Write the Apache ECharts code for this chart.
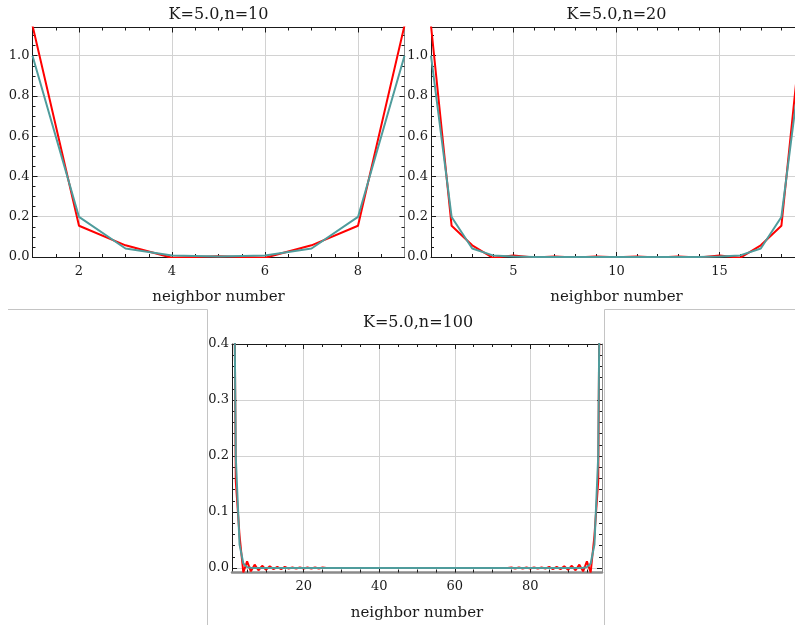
<!DOCTYPE html>
<html>
<head>
<meta charset="utf-8">
<script src="https://cdn.jsdelivr.net/npm/echarts@6/dist/echarts.min.js"></script>
<style>
  html, body { margin: 0; padding: 0; background: #fff; }
  #chart { width: 795px; height: 625px; }
</style>
</head>
<body>
<div id="chart"></div>
<script>
// --- data ---
const red10 = [1.15, 0.155, 0.058, -0.004, 0.004, -0.004, 0.058, 0.155, 1.15];
const teal10 = [1.0, 0.199, 0.042, 0.008, 0.003, 0.008, 0.042, 0.199, 1.0];

const red20 = [1.15, 0.155, 0.058, -0.004, 0.008, -0.003, 0.003, -0.002, 0.002, -0.001,
  0.002, -0.002, 0.003, -0.003, 0.008, -0.004, 0.058, 0.155, 1.15];
const teal20 = [1.0, 0.199, 0.042, 0.008, 0.002, 0.0005, 0.0002, 0.0001, 0.0001, 0.0001,
  0.0001, 0.0001, 0.0002, 0.0005, 0.002, 0.008, 0.042, 0.199, 1.0];

const red100 = [
  1.15, 0.155, 0.058, -0.008, 0.012, -0.006, 0.006, -0.004, 0.004, -0.003,
  0.003, -0.002, 0.002, -0.002, 0.002, -0.001, 0.001, -0.001, 0.001, -0.001,
  0.001, -0.001, 0.001, -0.001, 0.001, 0, 0, 0, 0, 0,
  0, 0, 0, 0, 0, 0, 0, 0, 0, 0,
  0, 0, 0, 0, 0, 0, 0, 0, 0, 0,
  0, 0, 0, 0, 0, 0, 0, 0, 0, 0,
  0, 0, 0, 0, 0, 0, 0, 0, 0, 0,
  0, 0, 0, 0, 0.001, -0.001, 0.001, -0.001, 0.001, -0.001,
  0.001, -0.001, 0.001, -0.001, 0.002, -0.002, 0.002, -0.002, 0.003, -0.003,
  0.004, -0.004, 0.006, -0.006, 0.012, -0.008, 0.058, 0.155, 1.15
];
const teal100 = [
  1.0, 0.199, 0.042, 0.008, 0.0016, 0.0003, 0, 0, 0, 0,
  0, 0, 0, 0, 0, 0, 0, 0, 0, 0,
  0, 0, 0, 0, 0, 0, 0, 0, 0, 0,
  0, 0, 0, 0, 0, 0, 0, 0, 0, 0,
  0, 0, 0, 0, 0, 0, 0, 0, 0, 0,
  0, 0, 0, 0, 0, 0, 0, 0, 0, 0,
  0, 0, 0, 0, 0, 0, 0, 0, 0, 0,
  0, 0, 0, 0, 0, 0, 0, 0, 0, 0,
  0, 0, 0, 0, 0, 0, 0, 0, 0, 0,
  0, 0, 0, 0.0003, 0.0016, 0.008, 0.042, 0.199, 1.0
];

const titles = ["K=5.0,n=10", "K=5.0,n=20", "K=5.0,n=100"];
const xName = "neighbor number";

const xTicks10 = [2, 4, 6, 8];
const xTicks20 = [5, 10, 15];
const xTicks100 = [20, 40, 60, 80];
const yTicksTop = [0, 0.2, 0.4, 0.6, 0.8, 1.0];
const yTicksBottom = [0, 0.1, 0.2, 0.3, 0.4];

// --- styling ---
const FONT = '"DejaVu Serif", serif';
const RED = "#ff0000";
const TEAL = "#4f9c9c";
const INK = "#1a1a1a";
const GRAY_AXIS = "#8a8a8a";
const GRID_LINE = "#d2d2d2";
const FRAME = "#c4c4c4";

// minor tick positions between lo and hi, skipping the major ones
function minorTicks(lo, hi, step, majors) {
  const out = [];
  for (let v = lo; v <= hi + 1e-9; v += step) {
    const r = Math.round(v * 10000) / 10000;
    if (!majors.some((m) => Math.abs(m - r) < 1e-9)) out.push(r);
  }
  return out;
}

const panels = [
  {
    title: titles[0], red: red10, teal: teal10, titleX: 218.5, titleY: 15,
    grid: { left: 32.5, top: 27.5, width: 372, height: 229.5 },
    x: [1, 9], xMajor: xTicks10, xMinor: minorTicks(1.5, 8.5, 0.5, xTicks10),
    y: [0, 1.14], yMajor: yTicksTop, yMinor: minorTicks(0.05, 1.1, 0.05, yTicksTop),
    bottomColor: INK, bottomWidth: 1, rightColor: GRAY_AXIS,
  },
  {
    title: titles[1], red: red20, teal: teal20, titleX: 616.5, titleY: 15,
    grid: { left: 431, top: 27.5, width: 371, height: 229.5 },
    x: [1, 19], xMajor: xTicks20, xMinor: minorTicks(2, 18, 1, xTicks20),
    y: [0, 1.14], yMajor: yTicksTop, yMinor: minorTicks(0.05, 1.1, 0.05, yTicksTop),
    bottomColor: INK, bottomWidth: 1, rightColor: GRAY_AXIS,
  },
  {
    title: titles[2], red: red100, teal: teal100, titleX: 418, titleY: 323,
    grid: { left: 232, top: 344, width: 370, height: 228.5 },
    x: [1, 99], xMajor: xTicks100, xMinor: minorTicks(5, 95, 5, xTicks100),
    y: [-0.008, 0.4], yMajor: yTicksBottom, yMinor: minorTicks(0.02, 0.38, 0.02, yTicksBottom),
    bottomColor: GRAY_AXIS, bottomWidth: 2.5, rightColor: GRAY_AXIS,
  },
];

const grids = [];
const xAxes = [];
const yAxes = [];
const series = [];
const graphics = [];

function tickAxis(dim, g, pos, range, ticks, len, lineShow, lineColor, lineWidth) {
  return {
    type: "value", gridIndex: g, position: pos, min: range[0], max: range[1],
    axisLine: { show: lineShow, onZero: false, lineStyle: { color: lineColor, width: lineWidth } },
    axisTick: { show: true, inside: true, length: len, customValues: ticks, lineStyle: { color: INK, width: 1 } },
    axisLabel: { show: false },
    splitLine: { show: false },
  };
}

panels.forEach((p, g) => {
  grids.push(Object.assign({ show: false, containLabel: false, outerBoundsMode: "none" }, p.grid));

  // bottom: labels + grid lines
  xAxes.push({
    type: "value", gridIndex: g, position: "bottom", min: p.x[0], max: p.x[1],
    axisLine: { show: true, onZero: false, lineStyle: { color: p.bottomColor, width: p.bottomWidth } },
    axisTick: { show: true, inside: true, length: 5, customValues: p.xMajor, lineStyle: { color: INK } },
    axisLabel: { customValues: p.xMajor, margin: 8, color: INK, fontFamily: FONT, fontSize: 13 },
    splitLine: { show: true, lineStyle: { color: GRID_LINE, width: 1 } },
    name: xName, nameLocation: "middle", nameGap: 33,
    nameTextStyle: { color: INK, fontFamily: FONT, fontSize: 15 },
  });
  xAxes.push(tickAxis("x", g, "bottom", p.x, p.xMinor, 3, false, INK, 1));
  xAxes.push(tickAxis("x", g, "top", p.x, p.xMajor, 5, true, INK, 1));
  xAxes.push(tickAxis("x", g, "top", p.x, p.xMinor, 3, false, INK, 1));

  // left: labels + grid lines
  yAxes.push({
    type: "value", gridIndex: g, position: "left", min: p.y[0], max: p.y[1],
    axisLine: { show: true, onZero: false, lineStyle: { color: INK, width: 1 } },
    axisTick: { show: true, inside: true, length: 5, customValues: p.yMajor, lineStyle: { color: INK } },
    axisLabel: {
      customValues: p.yMajor, margin: 3, color: INK, fontFamily: FONT, fontSize: 13,
      formatter: (v) => Number(v).toFixed(1),
    },
    splitLine: { show: true, lineStyle: { color: GRID_LINE, width: 1 } },
  });
  yAxes.push(tickAxis("y", g, "left", p.y, p.yMinor, 3, false, INK, 1));
  yAxes.push(tickAxis("y", g, "right", p.y, p.yMajor, 5, true, p.rightColor, 1));
  yAxes.push(tickAxis("y", g, "right", p.y, p.yMinor, 3, false, p.rightColor, 1));

  const xi = g * 4;
  series.push({
    type: "line", xAxisIndex: xi, yAxisIndex: xi, showSymbol: false, clip: true,
    data: p.red.map((v, i) => [i + 1, v]),
    lineStyle: { color: RED, width: 2 }, itemStyle: { color: RED },
  });
  series.push({
    type: "line", xAxisIndex: xi, yAxisIndex: xi, showSymbol: false, clip: true,
    data: p.teal.map((v, i) => [i + 1, v]),
    lineStyle: { color: TEAL, width: 2 }, itemStyle: { color: TEAL },
  });

  graphics.push({
    type: "text", x: p.titleX, y: p.titleY,
    style: { text: p.title, fill: INK, fontFamily: FONT, fontSize: 16, align: "center", verticalAlign: "middle" },
  });
});

// light frame around the lower panel, as in the source image
[
  [8, 309.5, 207.5, 309.5],
  [604.5, 309.5, 795, 309.5],
  [207.5, 309.5, 207.5, 625],
  [604.5, 309.5, 604.5, 625],
].forEach(([x1, y1, x2, y2]) => {
  graphics.push({ type: "line", shape: { x1, y1, x2, y2 }, style: { stroke: FRAME, lineWidth: 1 }, z: 0 });
});

const chart = echarts.init(document.getElementById("chart"), null, { renderer: "canvas" });
chart.setOption({
  backgroundColor: "#ffffff",
  animation: false,
  grid: grids,
  xAxis: xAxes,
  yAxis: yAxes,
  series: series,
  graphic: graphics,
});
</script>
</body>
</html>
